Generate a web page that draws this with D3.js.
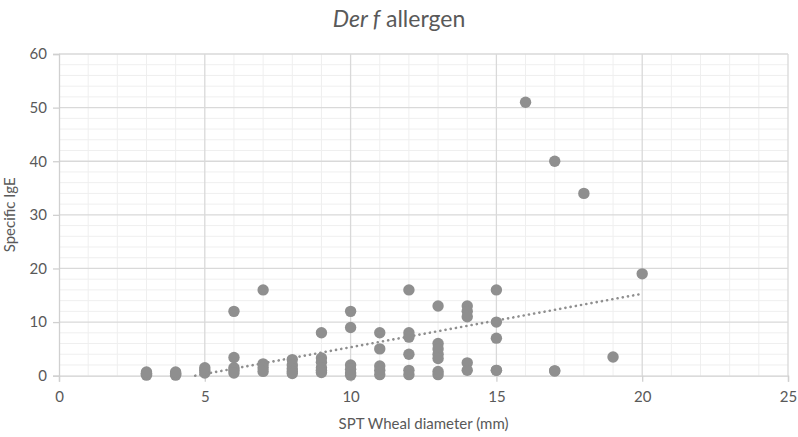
<!DOCTYPE html>
<html><head><meta charset="utf-8">
<script src="https://cdn.jsdelivr.net/npm/d3@7/dist/d3.min.js"></script>
<style>body{margin:0;background:#fff;}svg{display:block;font-family:Lato,"Open Sans",sans-serif;}</style>
</head><body><svg id="c" width="798" height="437"></svg>
<script>
// Data: SPT wheal diameter (mm) and specific IgE values at each diameter
const wheal = [3,4,5,6,7,8,9,10,11,12,13,14,15,16,17,18,19,20];
const ige = [
  [0.1,0.3,0.3,0.4,0.7],
  [0.1,0.3,0.4,0.7],
  [0.5,1.0,1.5],
  [12,3.4,1.5,1.0,0.5],
  [16,2.2,1.5,0.8],
  [3.0,2.0,1.3,0.8,0.4],
  [8,3.3,2.5,1.5,1.0,0.6],
  [12,9,2.0,1.2,0.5,0.1],
  [8,5,1.8,1.0,0.2],
  [16,8,7.2,4,1.0,0.2],
  [13,6,5,4,3.2,0.8,0.2],
  [13,12,11,2.4,1.0],
  [16,10,7,1,1],
  [51],
  [40,0.9,0.9],
  [34],
  [3.5],
  [19]
];
const xTicks = [0,5,10,15,20,25];
const yTicks = [0,10,20,30,40,50,60];
const title = ["Der f", " allergen"];
const xTitle = "SPT Wheal diameter (mm)";
const yTitle = "Specific IgE";

const pts = [];
wheal.forEach((w,i)=>ige[i].forEach(v=>pts.push({x:w,y:v})));

const svg = d3.select("#c");
const L=59, R=788, T=54, B=375.7;
const x = d3.scaleLinear().domain([0,25]).range([L,R]);
const y = d3.scaleLinear().domain([0,60]).range([B,T]);

// minor gridlines
const g = svg.append("g");
g.selectAll(".mx").data(d3.range(1,25).filter(v=>v%5)).join("line")
  .attr("x1",d=>x(d)).attr("x2",d=>x(d)).attr("y1",T).attr("y2",B)
  .attr("stroke","#efefef").attr("stroke-width",1);
g.selectAll(".my").data(d3.range(2,60,2).filter(v=>v%10)).join("line")
  .attr("x1",L).attr("x2",R).attr("y1",d=>y(d)).attr("y2",d=>y(d))
  .attr("stroke","#efefef").attr("stroke-width",1);
// major gridlines
g.selectAll(".Mx").data(xTicks.slice(1)).join("line")
  .attr("x1",d=>x(d)).attr("x2",d=>x(d)).attr("y1",T).attr("y2",B)
  .attr("stroke","#d9d9d9").attr("stroke-width",1.3);
g.selectAll(".My").data(yTicks.slice(1)).join("line")
  .attr("x1",L).attr("x2",R).attr("y1",d=>y(d)).attr("y2",d=>y(d))
  .attr("stroke","#d9d9d9").attr("stroke-width",1.3);

// axes
const xa = svg.append("g").attr("transform",`translate(0,${B})`)
  .call(d3.axisBottom(x).tickValues(xTicks).tickSize(6).tickPadding(10));
const ya = svg.append("g").attr("transform",`translate(${L},0)`)
  .call(d3.axisLeft(y).tickValues(yTicks).tickSize(6).tickPadding(6));
[xa,ya].forEach(a=>{
  a.select(".domain").attr("stroke","#d0d0d0").attr("stroke-width",1.3);
  a.selectAll(".tick line").attr("stroke","#d0d0d0").attr("stroke-width",1.3);
  a.selectAll("text").attr("fill","#595959").attr("font-size",15).attr("font-family","Lato,sans-serif");
});

// trendline (least squares, from the points)
const n=pts.length, mx=d3.mean(pts,d=>d.x), my=d3.mean(pts,d=>d.y);
const sxy=d3.sum(pts,d=>(d.x-mx)*(d.y-my)), sxx=d3.sum(pts,d=>(d.x-mx)*(d.x-mx));
const b=sxy/sxx, a=my-b*mx;
const x0=Math.max(d3.min(wheal), -a/b), x1=d3.max(wheal);
svg.append("line")
  .attr("x1",x(x0)).attr("y1",y(a+b*x0)).attr("x2",x(x1)).attr("y2",y(a+b*x1))
  .attr("stroke","#8f8f8f").attr("stroke-width",2.6).attr("stroke-linecap","round")
  .attr("stroke-dasharray","0.1 5.2");

// points
svg.append("g").selectAll("circle").data(pts).join("circle")
  .attr("cx",d=>x(d.x)).attr("cy",d=>y(d.y)).attr("r",5.7).attr("fill","#8f8f8f");

// titles
const t = svg.append("text").attr("x",399).attr("y",27).attr("text-anchor","middle")
  .attr("font-size",23).attr("fill","#595959");
t.append("tspan").attr("font-style","italic").text(title[0]);
t.append("tspan").text(title[1]);
svg.append("text").attr("x",(L+R)/2).attr("y",429).attr("text-anchor","middle")
  .attr("font-size",15).attr("fill","#595959").text(xTitle);
svg.append("text").attr("transform",`translate(15,${(T+B)/2}) rotate(-90)`).attr("text-anchor","middle")
  .attr("font-size",15).attr("fill","#595959").text(yTitle);
</script></body></html>
